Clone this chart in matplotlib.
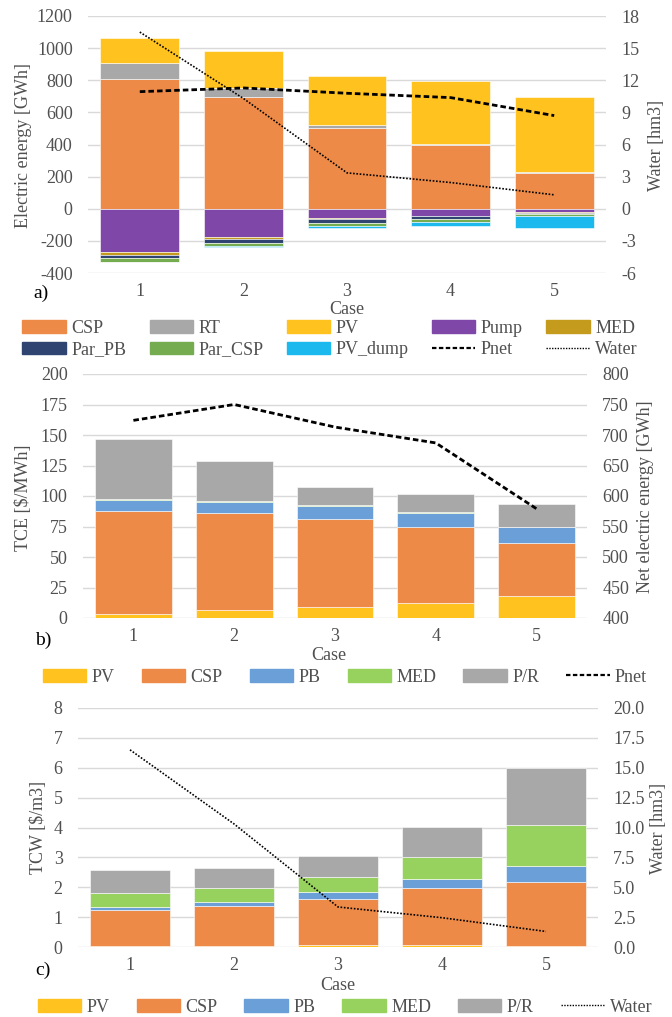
import numpy as np
import matplotlib
matplotlib.use("Agg")
import matplotlib.pyplot as plt
from matplotlib.patches import Patch
from matplotlib.lines import Line2D

plt.rcParams['font.family'] = ['Liberation Serif', 'DejaVu Serif']
plt.rcParams['font.size'] = 13
plt.rcParams['axes.unicode_minus'] = False

W, H = 672, 1017
TXT = '#505050'
GRID = '#D9D9D9'

cases = [1, 2, 3, 4, 5]

# a) electric energy balance [GWh]
a_csp = [810, 695, 505, 395, 222]
a_rt = [100, 55, 15, 10, 7]
a_pv = [150, 230, 307, 390, 467]
a_pump = [-268, -174, -60, -43, -22]
a_med = [-22, -14, -5, -3, -2]
a_par_pb = [-18, -28, -24, -18, -8]
a_par_csp = [-22, -18, -18, -17, -12]
a_pv_dump = [0, -2, -10, -25, -73]
a_pnet = [729, 752, 719, 692, 580]

# water production [hm3]
water = [16.5, 10.3, 3.35, 2.45, 1.3]

# b) TCE [$/MWh]
b_pv = [3.5, 6.3, 9.0, 12.3, 18.0]
b_csp = [84.0, 80.0, 72.0, 62.0, 43.5]
b_pb = [9.0, 8.5, 10.7, 11.4, 12.8]
b_med = [0.7, 0.7, 0.7, 0.8, 0.7]
b_pr = [49.5, 33.2, 14.6, 14.8, 18.1]
b_pnet = [724, 750, 713, 687, 579]

# c) TCW [$/m3]
c_pv = [0.02, 0.04, 0.06, 0.07, 0.05]
c_csp = [1.23, 1.34, 1.54, 1.92, 2.12]
c_pb = [0.10, 0.12, 0.24, 0.28, 0.55]
c_med = [0.47, 0.48, 0.49, 0.75, 1.37]
c_pr = [0.75, 0.67, 0.73, 1.01, 1.91]

col = {
    'CSP': '#EE8A47', 'RT': '#A8A8A8', 'PV': '#FFC21F', 'Pump': '#7F47A8',
    'MED': '#C59B1E', 'Par_PB': '#2F4470', 'Par_CSP': '#74AC4F',
    'PV_dump': '#1CB9EE', 'PB': '#6A9FD8', 'MEDg': '#98D25E', 'P/R': '#A8A8A8',
}

BW = 0.76
PNET_LS = (0, (2.0, 1.1))
WATER_LS = (0, (1, 1))


def fx(px):
    return px / W


def fy(py):
    return 1 - py / H


def make_ax(fig, x0, x1, y0, y1):
    ax = fig.add_axes([fx(x0), fy(y1), fx(x1) - fx(x0), fy(y0) - fy(y1)])
    ax2 = ax.twinx()
    for a in (ax, ax2):
        for s in a.spines.values():
            s.set_visible(False)
        a.tick_params(length=0, colors=TXT, labelsize=13)
    ax.tick_params(axis='y', pad=11)
    ax2.tick_params(axis='y', pad=11)
    ax.tick_params(axis='x', pad=7)
    ax.yaxis.grid(True, color=GRID, lw=1)
    ax.set_axisbelow(True)
    ax.set_xlim(0.5, 5.5)
    ax.set_xticks(cases)
    ax.set_xticklabels([str(c) for c in cases])
    return ax, ax2


def stack(ax, series, colors):
    bottom = np.zeros(len(cases))
    for vals, c in zip(series, colors):
        ax.bar(cases, vals, BW, bottom=bottom, color=c, edgecolor='white', linewidth=0.4, zorder=2)
        bottom = bottom + np.array(vals)


fig = plt.figure(figsize=(W / 100, H / 100), dpi=100)

# ---------- a)
ax, ax2 = make_ax(fig, 88, 606, 16, 273)
stack(ax, [a_csp, a_rt, a_pv], [col['CSP'], col['RT'], col['PV']])
stack(ax, [a_pump, a_med, a_par_pb, a_par_csp, a_pv_dump],
      [col['Pump'], col['MED'], col['Par_PB'], col['Par_CSP'], col['PV_dump']])
ax.plot(cases, a_pnet, color='black', lw=2, ls=PNET_LS, zorder=5)
ax.set_ylim(-400, 1200)
ax.set_yticks(np.arange(-400, 1201, 200))
ax2.plot(cases, water, color='black', lw=1.2, ls=WATER_LS)
ax2.set_ylim(-6, 18)
ax2.set_yticks(np.arange(-6, 19, 3))
fig.text(fx(24), fy(145), 'Electric energy [GWh]', rotation=90, ha='center', va='center', color=TXT)
fig.text(fx(656), fy(145), 'Water [hm3]', rotation=90, ha='center', va='center', color=TXT)
fig.text(fx(347), fy(309), 'Case', ha='center', va='center', color=TXT)
fig.text(fx(41), fy(293), 'a)', ha='center', va='center', color='black', fontsize=14)

la = [('CSP', col['CSP']), ('RT', col['RT']), ('PV', col['PV']), ('Pump', col['Pump']),
      ('MED', col['MED']), ('Par_PB', col['Par_PB']), ('Par_CSP', col['Par_CSP']),
      ('PV_dump', col['PV_dump'])]
ha = [Patch(color=c) for _, c in la]
ha += [Line2D([], [], color='black', lw=1.6, ls=PNET_LS), Line2D([], [], color='black', lw=1, ls=WATER_LS)]
lab = [n for n, _ in la] + ['Pnet', 'Water']
order = [0, 5, 1, 6, 2, 7, 3, 8, 4, 9]
fig.legend([ha[i] for i in order], [lab[i] for i in order], ncol=5, loc='center',
           bbox_to_anchor=(fx(330), fy(339)), frameon=False, handlelength=2.4,
           handletextpad=0.3, columnspacing=1.3, labelspacing=0.25, fontsize=13,
           labelcolor=TXT)

# ---------- b)
ax, ax2 = make_ax(fig, 83, 587, 374, 618)
stack(ax, [b_pv, b_csp, b_pb, b_med, b_pr],
      [col['PV'], col['CSP'], col['PB'], col['MEDg'], col['P/R']])
ax.set_ylim(0, 200)
ax.set_yticks(np.arange(0, 201, 25))
ax2.plot(cases, b_pnet, color='black', lw=2, ls=PNET_LS)
ax2.set_ylim(400, 800)
ax2.set_yticks(np.arange(400, 801, 50))
fig.text(fx(24), fy(498), 'TCE [$/MWh]', rotation=90, ha='center', va='center', color=TXT)
fig.text(fx(646), fy(497), 'Net electric energy [GWh]', rotation=90, ha='center', va='center', color=TXT)
fig.text(fx(329), fy(656), 'Case', ha='center', va='center', color=TXT)
fig.text(fx(43), fy(640), 'b)', ha='center', va='center', color='black', fontsize=14)

lb = [('PV', col['PV']), ('CSP', col['CSP']), ('PB', col['PB']), ('MED', col['MEDg']), ('P/R', col['P/R'])]
hb = [Patch(color=c) for _, c in lb] + [Line2D([], [], color='black', lw=1.6, ls=PNET_LS)]
fig.legend(hb, [n for n, _ in lb] + ['Pnet'], ncol=6, loc='center',
           bbox_to_anchor=(fx(345), fy(677)), frameon=False, handlelength=2.4,
           handletextpad=0.3, columnspacing=1.5, fontsize=13, labelcolor=TXT)

# ---------- c)
ax, ax2 = make_ax(fig, 78, 598, 708, 947)
stack(ax, [c_pv, c_csp, c_pb, c_med, c_pr],
      [col['PV'], col['CSP'], col['PB'], col['MEDg'], col['P/R']])
ax.set_ylim(0, 8)
ax.set_yticks(np.arange(0, 9, 1))
ax2.plot(cases, water, color='black', lw=1.2, ls=WATER_LS)
ax2.set_ylim(0, 20)
ax2.set_yticks(np.arange(0, 20.1, 2.5))
ax2.set_yticklabels([f'{v:.1f}' for v in np.arange(0, 20.1, 2.5)])
fig.text(fx(38), fy(827), 'TCW [$/m3]', rotation=90, ha='center', va='center', color=TXT)
fig.text(fx(659), fy(828), 'Water [hm3]', rotation=90, ha='center', va='center', color=TXT)
fig.text(fx(338), fy(985), 'Case', ha='center', va='center', color=TXT)
fig.text(fx(43), fy(970), 'c)', ha='center', va='center', color='black', fontsize=14)

hc = [Patch(color=c) for _, c in lb] + [Line2D([], [], color='black', lw=1, ls=WATER_LS)]
fig.legend(hc, [n for n, _ in lb] + ['Water'], ncol=6, loc='center',
           bbox_to_anchor=(fx(345), fy(1007)), frameon=False, handlelength=2.4,
           handletextpad=0.3, columnspacing=1.5, fontsize=13, labelcolor=TXT)

fig.savefig('out.png', dpi=100)
